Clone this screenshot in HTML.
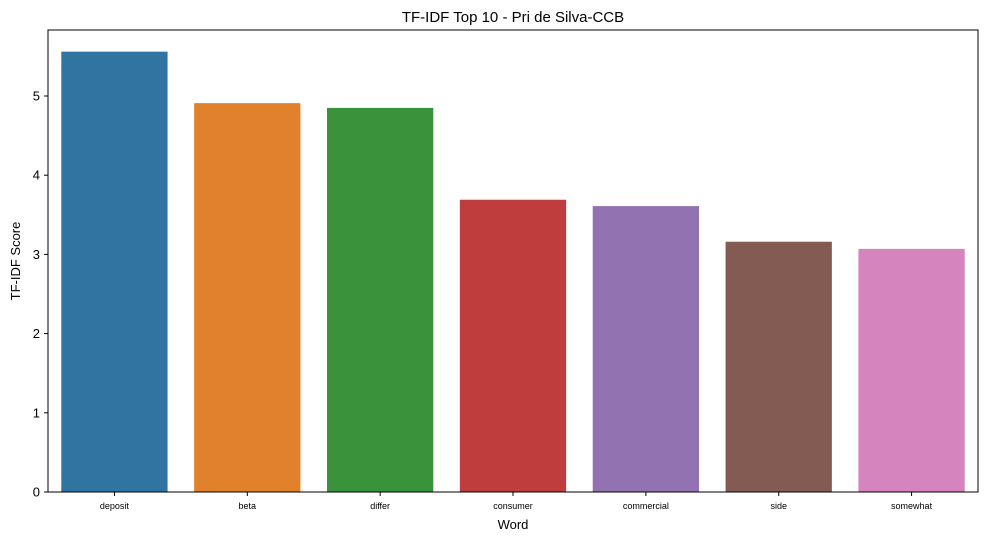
<!DOCTYPE html>
<html><head><meta charset="utf-8"><style>
html,body{margin:0;padding:0;background:#fff;}
svg{display:block;font-family:"Liberation Sans","DejaVu Sans",sans-serif;}
</style></head><body>
<svg id="chart" width="991" height="541">
<text x="513" y="22" text-anchor="middle" font-size="15">TF-IDF Top 10 - Pri de Silva-CCB</text>
<text x="513" y="529" text-anchor="middle" font-size="13">Word</text>
<text x="20" y="261" text-anchor="middle" font-size="13" transform="rotate(-90 20 261)">TF-IDF Score</text>
<g id="bars"></g>
<g id="yticks"></g>
<g id="xticks"></g>
<rect x="48" y="30" width="930" height="462" fill="none" stroke="#000" stroke-width="1"/>
</svg>
<script>
const categories = ["deposit","beta","differ","consumer","commercial","side","somewhat"];
const values = [5.56, 4.91, 4.85, 3.69, 3.61, 3.16, 3.07];
const yTicks = [0,1,2,3,4,5];
const colors = ["#3274a1","#e1812c","#3a923a","#c03d3e","#9372b2","#845b53","#d684bd"];
const L=48,R=978,T=30,B=492,yMax=(B-T)/79.2;
const NS="http://www.w3.org/2000/svg";
const y=v=>B-(v/yMax)*(B-T);
const band=(R-L)/categories.length;
const x=i=>L+band*i;
const bars=document.getElementById('bars'),yt=document.getElementById('yticks'),xt=document.getElementById('xticks');
categories.forEach((c,i)=>{
  const r=document.createElementNS(NS,'rect');
  r.setAttribute('x',x(i)+band*0.1);r.setAttribute('width',band*0.8);
  r.setAttribute('y',y(values[i]));r.setAttribute('height',B-y(values[i]));
  r.setAttribute('fill',colors[i%colors.length]);
  
  
  bars.appendChild(r);
  const cx=x(i)+band/2;
  const l=document.createElementNS(NS,'line');
  l.setAttribute('x1',cx);l.setAttribute('x2',cx);l.setAttribute('y1',B);l.setAttribute('y2',B+4);l.setAttribute('stroke','#000');
  
  
  xt.appendChild(l);
  const t=document.createElementNS(NS,'text');
  t.setAttribute('x',cx);t.setAttribute('y',B+17);t.setAttribute('text-anchor','middle');t.setAttribute('font-size','9');
  t.textContent=c;
  
  
  xt.appendChild(t);
});
yTicks.forEach(v=>{
  const l=document.createElementNS(NS,'line');
  l.setAttribute('x1',L-4);l.setAttribute('x2',L);l.setAttribute('y1',y(v));l.setAttribute('y2',y(v));l.setAttribute('stroke','#000');
  
  
  yt.appendChild(l);
  const t=document.createElementNS(NS,'text');
  t.setAttribute('x',L-8);t.setAttribute('y',y(v)+4.5);t.setAttribute('text-anchor','end');t.setAttribute('font-size','13');
  t.textContent=v;
  
  
  yt.appendChild(t);
});
</script>
</body></html>
